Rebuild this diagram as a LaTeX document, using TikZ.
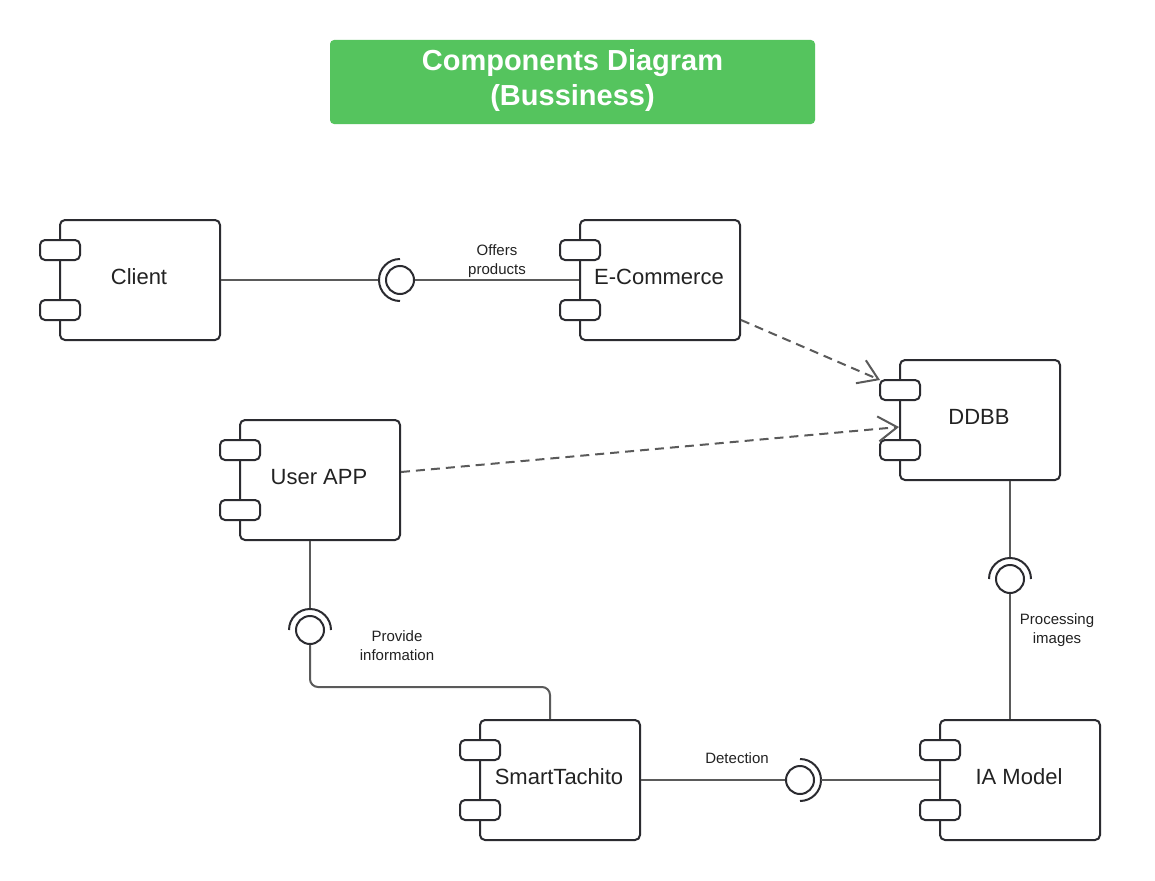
\documentclass[tikz,border=0pt]{standalone}
\usepackage{fontspec}
\setmainfont{Liberation Sans}
\usetikzlibrary{arrows.meta}
\definecolor{boxc}{HTML}{2B2B30}
\definecolor{linec}{HTML}{5A5A5A}
\definecolor{titleg}{HTML}{55C45E}
\definecolor{txtc}{HTML}{222222}
\tikzset{
  comp/.style={draw=boxc, line width=2pt, rounded corners=5pt, minimum width=160pt, minimum height=120pt, fill=white, inner sep=0pt},
  ctext/.style={font=\fontsize{22}{26}\selectfont, text=txtc, inner sep=0pt},
  port/.style={draw=boxc, line width=2pt, rounded corners=5pt, minimum width=40pt, minimum height=20pt, fill=white, inner sep=0pt},
  ball/.style={circle, draw=boxc, line width=2pt, minimum size=28pt, inner sep=0pt, fill=white},
  sock/.style={draw=boxc, line width=2pt},
  conn/.style={draw=linec, line width=2pt},
  dep/.style={draw=linec, line width=2pt, dash pattern=on 9pt off 6pt, -{Straight Barb[length=19pt,width=25pt,line width=2pt]}},
  lbl/.style={font=\fontsize{15}{19}\selectfont, text=txtc, align=center, inner sep=0pt}
}
\newcommand\comp[4]{%
  \node[comp] (#1) at (#2,#3) {};
  \node[ctext] (#1t) at (#2-1,#3-3) {#4};
  \node[port] (#1p1) at (#2-80,#3-30) {};
  \node[port] (#1p2) at (#2-80,#3+30) {};
}
\begin{document}
\begin{tikzpicture}[x=1pt,y=-1pt]
\path[use as bounding box, fill=white] (0,0) rectangle (1155,880);

% title
\node[fill=titleg, rounded corners=4pt, minimum width=485pt, minimum height=84pt, inner sep=0pt] (title) at (572.5,82) {};
\node[text=white, font=\bfseries\fontsize{29}{35}\selectfont, align=center, inner sep=0pt] (titletext) at (572.5,81) {Components Diagram\\(Bussiness)};

% components
\comp{client}{140}{280}{Client}
\comp{ecom}{660}{280}{E-Commerce}
\comp{ddbb}{980}{420}{DDBB}
\comp{user}{320}{480}{User APP}
\comp{smart}{560}{780}{SmartTachito}
\comp{ia}{1020}{780}{IA Model}

% Client -- E-Commerce
\node[ball] (b1) at (400,280) {};
\coordinate (s1) at (379,280);
\draw[conn] (client.east) -- (s1);
\draw[sock] (b1.center) ++(90:21) arc[start angle=90, end angle=270, radius=21];
\draw[conn] (b1.east) -- (ecom.west);
\node[lbl] (l1) at (497,261) {Offers\\products};

% User APP -- SmartTachito
\node[ball] (b2) at (310,630) {};
\coordinate (s2) at (310,609);
\draw[conn] (s2 |- user.south) -- (s2);
\draw[sock] (b2.center) ++(0:21) arc[start angle=0, end angle=-180, radius=21];
\coordinate (j2) at (550,687);
\draw[conn, rounded corners=8pt] (b2.south) |- (j2) -- (j2 |- smart.north);
\node[lbl] (l2) at (397,645.5) {Provide\\information};

% DDBB -- IA Model
\node[ball] (b3) at (1010,579) {};
\coordinate (s3) at (1010,558);
\draw[conn] (s3 |- ddbb.south) -- (s3);
\draw[sock] (b3.center) ++(0:21) arc[start angle=0, end angle=-180, radius=21];
\draw[conn] (b3.south) -- (b3 |- ia.north);
\node[lbl] (l3) at (1057,630.5) {Processing\\images};

% SmartTachito -- IA Model
\node[ball] (b4) at (800,780) {};
\coordinate (s4) at (821,780);
\draw[conn] (smart.east) -- (b4.west);
\draw[sock] (b4.center) ++(90:21) arc[start angle=90, end angle=-90, radius=21];
\draw[conn] (s4) -- (ia.west);
\node[lbl] (l4) at (737,758) {Detection};

% dependencies
\draw[dep] ([yshift=-40pt]ecom.east) -- ([xshift=1pt,yshift=-1pt]ddbbp1.north west);
\draw[dep] ([yshift=8pt]user.east) -- ([yshift=-7pt]ddbb.west);
\end{tikzpicture}
\end{document}
